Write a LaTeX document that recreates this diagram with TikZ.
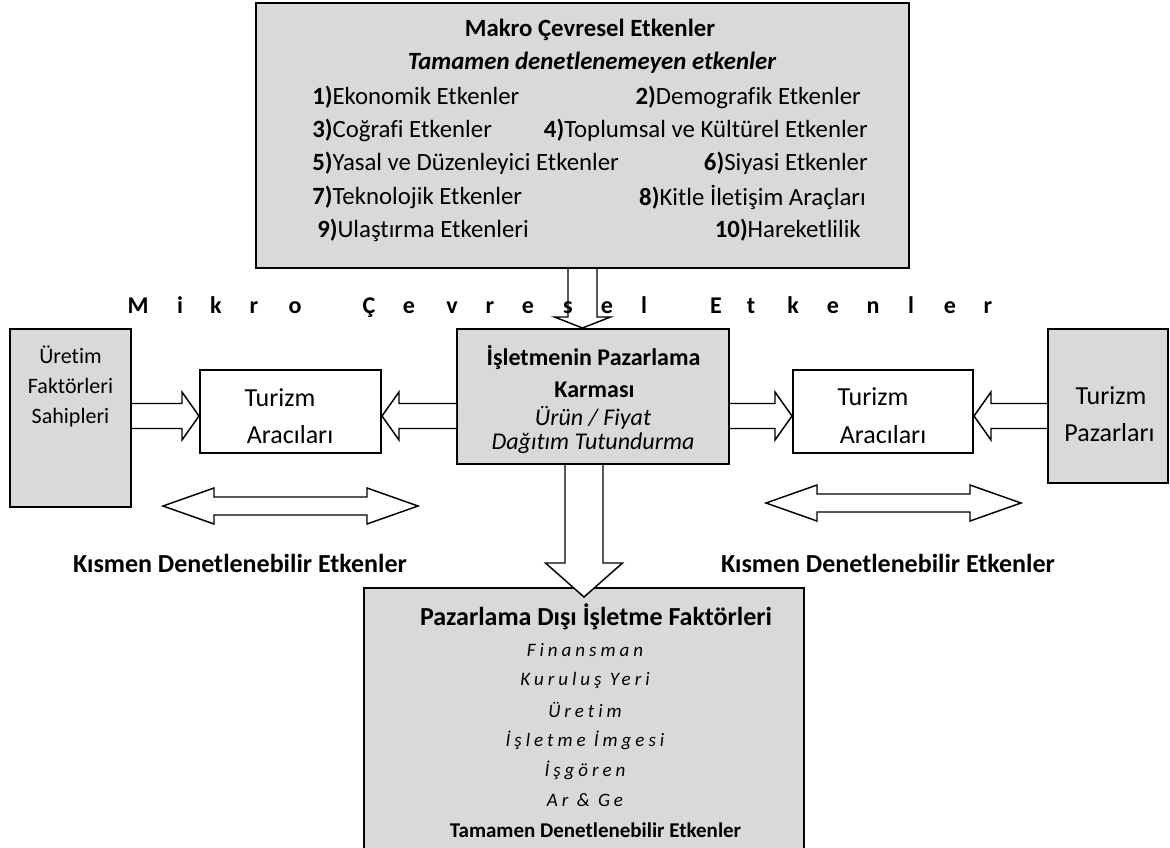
\documentclass[tikz,border=0pt]{standalone}
\usepackage{fontspec}
\setmainfont{Carlito}[Ligatures=NoCommon]
\newfontfamily\spacedfont[LetterSpace=21,Ligatures=NoCommon]{Carlito}
\usetikzlibrary{calc}
\definecolor{boxgray}{RGB}{217,217,217}
% block arrow between two points: from, to, shaft half width, head half width, head length (px)
\newcommand{\fatarrow}[5]{%
  \draw[fatline] let \p1=(#1), \p2=(#2), \p3=($(#2)-(#1)$), \n1={veclen(\x3,\y3)} in
    ({\x1-\y3/\n1*#3*0.75}, {\y1+\x3/\n1*#3*0.75})
    -- ({\x2-\x3/\n1*#5*0.75-\y3/\n1*#3*0.75}, {\y2-\y3/\n1*#5*0.75+\x3/\n1*#3*0.75})
    -- ({\x2-\x3/\n1*#5*0.75-\y3/\n1*#4*0.75}, {\y2-\y3/\n1*#5*0.75+\x3/\n1*#4*0.75})
    -- (\x2,\y2)
    -- ({\x2-\x3/\n1*#5*0.75+\y3/\n1*#4*0.75}, {\y2-\y3/\n1*#5*0.75-\x3/\n1*#4*0.75})
    -- ({\x2-\x3/\n1*#5*0.75+\y3/\n1*#3*0.75}, {\y2-\y3/\n1*#5*0.75-\x3/\n1*#3*0.75})
    -- ({\x1+\y3/\n1*#3*0.75}, {\y1-\x3/\n1*#3*0.75});}
% double headed block arrow: left x, right x, y
\newcommand{\dblblock}[3]{%
  \draw[fatline] (#1,#3) -- (#1+51,#3-18) -- (#1+51,#3-9) -- (#2-51,#3-9) -- (#2-51,#3-18)
    -- (#2,#3) -- (#2-51,#3+18) -- (#2-51,#3+9) -- (#1+51,#3+9) -- (#1+51,#3+18) -- cycle;}
\begin{document}
\begin{tikzpicture}[x=0.75pt,y=-0.75pt,every node/.style={inner sep=0pt},
  graybox/.style={draw,line width=1.5pt,fill=boxgray},
  whitebox/.style={draw,line width=1.5pt,fill=white},
  fatline/.style={line width=1.1pt,fill=white,draw=black},
  mtx/.style={font=\fontsize{18.6}{22}\selectfont},
  mbf/.style={font=\bfseries\fontsize{18.6}{22}\selectfont},
  mbfit/.style={font=\bfseries\itshape\fontsize{18.6}{22}\selectfont},
  txbf/.style={font=\bfseries\fontsize{18}{21}\selectfont},
  txit/.style={font=\itshape\fontsize{18}{21}\selectfont},
  bigtx/.style={font=\fontsize{19.5}{23}\selectfont},
  bigbf/.style={font=\bfseries\fontsize{19.5}{23}\selectfont},
  smalltx/.style={font=\fontsize{16.5}{22.5}\selectfont},
  smallbf/.style={font=\bfseries\fontsize{15.75}{19}\selectfont},
  spacedtx/.style={font=\spacedfont\itshape\fontsize{14.25}{17}\selectfont}]
\useasboundingbox (0,0) rectangle (1170,847);
% boxes
\node[graybox,minimum width=489.75pt,minimum height=198.75pt] (makro) at (582.5,135.5) {};
\node[graybox,minimum width=90.75pt,minimum height=133.5pt] (uretim) at (70.5,418) {};
\node[whitebox,minimum width=135.75pt,minimum height=62.25pt] (aracL) at (290.5,411) {};
\node[graybox,minimum width=204pt,minimum height=101.25pt] (karma) at (593,396.5) {};
\node[whitebox,minimum width=135pt,minimum height=62.25pt] (aracR) at (883,411.5) {};
\node[graybox,minimum width=90pt,minimum height=115.5pt] (pazar) at (1108,406) {};
\node[graybox,minimum width=330pt,minimum height=204pt] (disi) at (584,724) {};
% makro text
\node[mbf] (makrot) at (590,30) {Makro Çevresel Etkenler};
\node[mbfit] (makros) at (592,63) {Tamamen denetlenemeyen etkenler};
\foreach \n/\t/\x/\y in {1/Ekonomik Etkenler/312/97, 3/Coğrafi Etkenler/312/130,
  5/Yasal ve Düzenleyici Etkenler/312/163, 7/Teknolojik Etkenler/312/197, 9/Ulaştırma Etkenleri/317/230}
  \node[mtx,anchor=west] (m\n) at (\x,\y) {\textbf{\n)}\t};
\foreach \n/\t/\x/\y in {2/Demografik Etkenler/861/97, 4/Toplumsal ve Kültürel Etkenler/868/130,
  6/Siyasi Etkenler/868/163, 8/Kitle İletişim Araçları/866/197, 10/Hareketlilik/861/230}
  \node[mtx,anchor=east] (m\n) at (\x,\y) {\textbf{\n)}\t};
% side boxes text
\node[smalltx,align=center] (uretimt) at (70.5,386.5) {Üretim\\Faktörleri\\Sahipleri};
\node[bigtx] (aracLa) at (280,398) {Turizm};
\node[bigtx] (aracLb) at (290,435) {Aracıları};
\node[bigtx] (aracRa) at (873,397) {Turizm};
\node[bigtx] (aracRb) at (883,435) {Aracıları};
\node[bigtx] (pazara) at (1111,396) {Turizm};
\node[bigtx] (pazarb) at (1109.5,433) {Pazarları};
% karma text
\node[txbf] (karmaa) at (593.5,357) {İşletmenin Pazarlama};
\node[txbf] (karmab) at (594.5,390) {Karması};
\node[txit] (karmac) at (593,418) {Ürün / Fiyat};
\node[txit] (karmad) at (593,443) {Dağıtım Tutundurma};
% disi text
\node[bigbf] (disit) at (596,617) {Pazarlama Dışı İşletme Faktörleri};
\foreach \t [count=\i] in {Finansman, Kuruluş Yeri, Üretim, İşletme İmgesi, İşgören, Ar \& Ge}
  \node[spacedtx] (d\i) at (585,620+30*\i) {\t};
\node[smallbf] (disib) at (595.5,830) {Tamamen Denetlenebilir Etkenler};
% connectors
\fatarrow{uretim.east |- 0,416}{aracL.west |- 0,416}{12.5}{24}{17}
\fatarrow{karma.west |- 0,416}{aracL.east |- 0,416}{12.5}{24}{17}
\fatarrow{karma.east |- 0,416}{aracR.west |- 0,416}{12.5}{24}{17}
\fatarrow{pazar.west |- 0,416}{aracR.east |- 0,416}{12.5}{24}{17}
\fatarrow{makro.south}{makro.south |- karma.north}{14.5}{28}{11}
\fatarrow{karma.south -| disi.north}{$(disi.north)+(0,10)$}{19}{38.5}{34}
\dblblock{163}{418}{506}
\dblblock{766}{1021}{503}
\node[bigbf] (kismL) at (240,563) {Kısmen Denetlenebilir Etkenler};
\node[bigbf] (kismR) at (888,563) {Kısmen Denetlenebilir Etkenler};
% mikro letters
\foreach \c/\x in {M/138, i/180, k/216, r/254, o/295, Ç/369, e/409, v/452, r/490, e/528, s/568,
  e/607, l/644, E/716, t/751, k/793, e/833, n/873, l/911, e/950, r/988}
  \node[txbf,anchor=base] (mk\x) at (\x,313) {\c};
\end{tikzpicture}
\end{document}
